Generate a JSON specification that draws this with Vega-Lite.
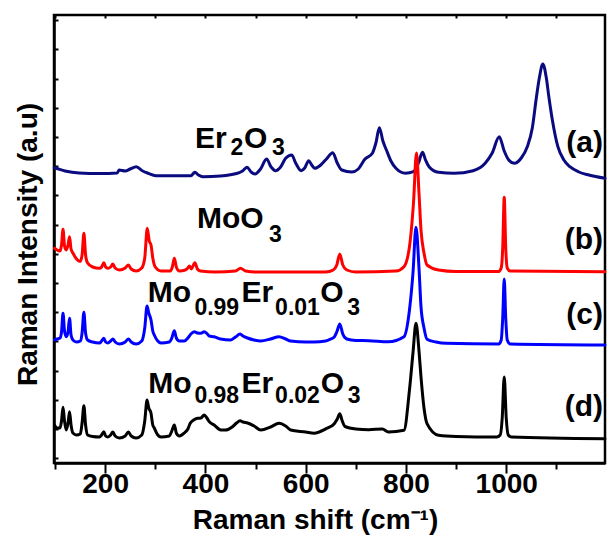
{
  "$schema": "https://vega.github.io/schema/vega-lite/v6.json",
  "width": 551,
  "height": 448,
  "autosize": "none",
  "padding": {"left": 54, "top": 15, "right": 3, "bottom": 84},
  "background": "white",
  "config": {
    "view": {"stroke": "black", "strokeWidth": 2.5},
    "font": "Liberation Sans",
    "axis": {"grid": false, "domainColor": "black", "domainWidth": 2.5, "tickColor": "black", "tickWidth": 2, "labelFont": "Liberation Sans", "titleFont": "Liberation Sans", "labelColor": "black", "titleColor": "black"}
  },
  "datasets": {
    "spectra": [
      {"s":"a","x":98.5,"y":295.3},{"s":"a","x":120,"y":292},{"s":"a","x":148,"y":290},{"s":"a","x":190,"y":289.5},{"s":"a","x":224,"y":290},{"s":"a","x":228,"y":293},{"s":"a","x":240,"y":292},{"s":"a","x":250,"y":294},{"s":"a","x":262,"y":296.3},{"s":"a","x":275,"y":292},{"s":"a","x":286,"y":289.7},{"s":"a","x":301,"y":287.3},{"s":"a","x":371,"y":287.3},{"s":"a","x":379,"y":290.7},{"s":"a","x":386,"y":288},{"s":"a","x":395,"y":286.3},{"s":"a","x":430,"y":287},{"s":"a","x":464,"y":289.7},{"s":"a","x":474,"y":292},{"s":"a","x":483,"y":295.7},{"s":"a","x":491,"y":291},{"s":"a","x":499,"y":289},{"s":"a","x":510,"y":294},{"s":"a","x":522,"y":304},{"s":"a","x":531,"y":296},{"s":"a","x":540,"y":292.3},{"s":"a","x":550,"y":296},{"s":"a","x":560,"y":304.7},{"s":"a","x":572,"y":308},{"s":"a","x":580,"y":300},{"s":"a","x":591,"y":292.3},{"s":"a","x":598,"y":295},{"s":"a","x":606,"y":302.3},{"s":"a","x":612,"y":298},{"s":"a","x":618,"y":294.7},{"s":"a","x":630,"y":298},{"s":"a","x":641,"y":303.7},{"s":"a","x":654,"y":310.3},{"s":"a","x":663,"y":300},{"s":"a","x":672,"y":293},{"s":"a","x":692,"y":291},{"s":"a","x":705,"y":294},{"s":"a","x":718,"y":303.7},{"s":"a","x":733,"y":309.7},{"s":"a","x":740,"y":320},{"s":"a","x":747,"y":335.3},{"s":"a","x":754,"y":322},{"s":"a","x":761,"y":313},{"s":"a","x":770,"y":302},{"s":"a","x":780,"y":294.7},{"s":"a","x":799,"y":289.7},{"s":"a","x":815,"y":291.3},{"s":"a","x":825,"y":300},{"s":"a","x":833,"y":310.7},{"s":"a","x":839,"y":303},{"s":"a","x":846,"y":296.3},{"s":"a","x":865,"y":290.7},{"s":"a","x":896,"y":289.7},{"s":"a","x":934,"y":292.3},{"s":"a","x":958,"y":299.7},{"s":"a","x":972,"y":310},{"s":"a","x":986,"y":326.3},{"s":"a","x":996,"y":312},{"s":"a","x":1005,"y":303},{"s":"a","x":1016,"y":299.7},{"s":"a","x":1030,"y":305},{"s":"a","x":1042,"y":316.3},{"s":"a","x":1052,"y":335},{"s":"a","x":1060,"y":365},{"s":"a","x":1066,"y":385},{"s":"a","x":1073,"y":399},{"s":"a","x":1080,"y":385},{"s":"a","x":1085,"y":366.3},{"s":"a","x":1092,"y":343},{"s":"a","x":1103,"y":316.3},{"s":"a","x":1115,"y":303},{"s":"a","x":1127,"y":296.3},{"s":"a","x":1145,"y":291},{"s":"a","x":1165,"y":288},{"s":"a","x":1197,"y":284.7},

      {"s":"b","x":99,"y":214.7},{"s":"b","x":104,"y":213},{"s":"b","x":110,"y":212},{"s":"b","x":113,"y":218},{"s":"b","x":116,"y":233.7},{"s":"b","x":119,"y":217},{"s":"b","x":122.5,"y":213},{"s":"b","x":126,"y":218},{"s":"b","x":129,"y":226.3},{"s":"b","x":132,"y":214},{"s":"b","x":136,"y":209.7},{"s":"b","x":143,"y":204},{"s":"b","x":150,"y":201.5},{"s":"b","x":154,"y":208},{"s":"b","x":157.6,"y":229.7},{"s":"b","x":161,"y":208},{"s":"b","x":165,"y":200},{"s":"b","x":175,"y":196},{"s":"b","x":188.7,"y":194.7},{"s":"b","x":193,"y":196},{"s":"b","x":197.4,"y":200.3},{"s":"b","x":201,"y":196},{"s":"b","x":205.4,"y":194.7},{"s":"b","x":211,"y":196},{"s":"b","x":215.3,"y":199},{"s":"b","x":220,"y":195},{"s":"b","x":228.5,"y":193},{"s":"b","x":240,"y":195},{"s":"b","x":246.4,"y":198},{"s":"b","x":252,"y":194},{"s":"b","x":261.7,"y":192},{"s":"b","x":273,"y":195},{"s":"b","x":279,"y":205},{"s":"b","x":284,"y":234.7},{"s":"b","x":288,"y":222},{"s":"b","x":291.5,"y":218},{"s":"b","x":295,"y":205},{"s":"b","x":300,"y":196},{"s":"b","x":311.4,"y":192},{"s":"b","x":330,"y":192},{"s":"b","x":334,"y":196},{"s":"b","x":338,"y":204.7},{"s":"b","x":342,"y":196},{"s":"b","x":348,"y":192},{"s":"b","x":360,"y":193},{"s":"b","x":365,"y":195},{"s":"b","x":368,"y":197},{"s":"b","x":372,"y":194},{"s":"b","x":379,"y":200.3},{"s":"b","x":384,"y":194},{"s":"b","x":390,"y":192},{"s":"b","x":420,"y":191},{"s":"b","x":460,"y":192},{"s":"b","x":470,"y":194.7},{"s":"b","x":480,"y":192},{"s":"b","x":500,"y":191},{"s":"b","x":640,"y":191},{"s":"b","x":655,"y":193},{"s":"b","x":662,"y":198},{"s":"b","x":668,"y":209},{"s":"b","x":674,"y":198},{"s":"b","x":682,"y":193},{"s":"b","x":700,"y":191},{"s":"b","x":780,"y":192},{"s":"b","x":796,"y":196.3},{"s":"b","x":807,"y":216.3},{"s":"b","x":815,"y":260},{"s":"b","x":821,"y":310},{"s":"b","x":826,"y":270},{"s":"b","x":830,"y":233},{"s":"b","x":836,"y":210},{"s":"b","x":842,"y":198},{"s":"b","x":865,"y":193},{"s":"b","x":900,"y":191.5},{"s":"b","x":985,"y":191.5},{"s":"b","x":990,"y":195},{"s":"b","x":993,"y":215},{"s":"b","x":996,"y":265.7},{"s":"b","x":999,"y":215},{"s":"b","x":1002,"y":195},{"s":"b","x":1008,"y":192},{"s":"b","x":1197,"y":191.3},

      {"s":"c","x":99,"y":123},{"s":"c","x":104,"y":124},{"s":"c","x":110,"y":125},{"s":"c","x":113,"y":131},{"s":"c","x":116,"y":149.7},{"s":"c","x":119,"y":132},{"s":"c","x":122.4,"y":126.3},{"s":"c","x":126,"y":131},{"s":"c","x":129,"y":144.7},{"s":"c","x":132,"y":128},{"s":"c","x":135.7,"y":123},{"s":"c","x":143,"y":121},{"s":"c","x":150.5,"y":122},{"s":"c","x":154,"y":130},{"s":"c","x":157.6,"y":150.7},{"s":"c","x":161,"y":130},{"s":"c","x":165,"y":123},{"s":"c","x":175,"y":121},{"s":"c","x":188.7,"y":120},{"s":"c","x":193,"y":122},{"s":"c","x":197.4,"y":124.7},{"s":"c","x":201,"y":121},{"s":"c","x":205.4,"y":120},{"s":"c","x":211,"y":122},{"s":"c","x":215.3,"y":124},{"s":"c","x":220,"y":121},{"s":"c","x":228.5,"y":119},{"s":"c","x":240,"y":121},{"s":"c","x":246.4,"y":124},{"s":"c","x":252,"y":121},{"s":"c","x":261.7,"y":119},{"s":"c","x":273,"y":122},{"s":"c","x":279,"y":135},{"s":"c","x":283.6,"y":157},{"s":"c","x":287,"y":150},{"s":"c","x":291.5,"y":143},{"s":"c","x":295,"y":132},{"s":"c","x":298,"y":128},{"s":"c","x":305,"y":122},{"s":"c","x":311.4,"y":120},{"s":"c","x":328,"y":121},{"s":"c","x":333,"y":125},{"s":"c","x":338,"y":132.3},{"s":"c","x":342,"y":125},{"s":"c","x":348,"y":122},{"s":"c","x":357.8,"y":122},{"s":"c","x":365,"y":125},{"s":"c","x":371,"y":129},{"s":"c","x":377.7,"y":131.3},{"s":"c","x":384,"y":130},{"s":"c","x":391,"y":129.7},{"s":"c","x":397.6,"y":131.3},{"s":"c","x":403,"y":129.5},{"s":"c","x":407.6,"y":127},{"s":"c","x":417.5,"y":126.3},{"s":"c","x":430,"y":124},{"s":"c","x":450.7,"y":123},{"s":"c","x":460,"y":126},{"s":"c","x":469.2,"y":129},{"s":"c","x":475,"y":127},{"s":"c","x":484,"y":125},{"s":"c","x":497,"y":123},{"s":"c","x":510.4,"y":122},{"s":"c","x":530,"y":124},{"s":"c","x":546.9,"y":126.3},{"s":"c","x":560,"y":124},{"s":"c","x":570,"y":122},{"s":"c","x":600,"y":121},{"s":"c","x":616.5,"y":121},{"s":"c","x":640,"y":122},{"s":"c","x":650,"y":124},{"s":"c","x":657,"y":126},{"s":"c","x":662,"y":131},{"s":"c","x":668,"y":139},{"s":"c","x":674,"y":129},{"s":"c","x":682,"y":124},{"s":"c","x":700,"y":122.5},{"s":"c","x":726,"y":122.3},{"s":"c","x":765,"y":121.3},{"s":"c","x":796,"y":126.3},{"s":"c","x":807,"y":153},{"s":"c","x":814,"y":190},{"s":"c","x":820,"y":235.7},{"s":"c","x":826,"y":195},{"s":"c","x":830,"y":156.3},{"s":"c","x":836,"y":135},{"s":"c","x":842,"y":123.7},{"s":"c","x":860,"y":121},{"s":"c","x":880,"y":119.7},{"s":"c","x":985,"y":119},{"s":"c","x":990,"y":123},{"s":"c","x":993,"y":145},{"s":"c","x":996,"y":184},{"s":"c","x":999,"y":145},{"s":"c","x":1002,"y":123},{"s":"c","x":1008,"y":119},{"s":"c","x":1197,"y":118},

      {"s":"d","x":99,"y":38},{"s":"d","x":104,"y":35},{"s":"d","x":110,"y":35},{"s":"d","x":113,"y":42},{"s":"d","x":116,"y":55.7},{"s":"d","x":119,"y":42},{"s":"d","x":122.4,"y":33},{"s":"d","x":126,"y":40},{"s":"d","x":129,"y":51.3},{"s":"d","x":132,"y":38},{"s":"d","x":135.7,"y":30},{"s":"d","x":143,"y":28},{"s":"d","x":150.5,"y":29},{"s":"d","x":154,"y":40},{"s":"d","x":157.6,"y":57.3},{"s":"d","x":161,"y":38},{"s":"d","x":165,"y":28},{"s":"d","x":175,"y":26.5},{"s":"d","x":188.7,"y":26},{"s":"d","x":193,"y":28},{"s":"d","x":197.4,"y":31.3},{"s":"d","x":201,"y":27},{"s":"d","x":205.4,"y":26},{"s":"d","x":211,"y":28},{"s":"d","x":215.3,"y":31},{"s":"d","x":220,"y":27},{"s":"d","x":228.5,"y":25},{"s":"d","x":240,"y":27},{"s":"d","x":246.4,"y":31},{"s":"d","x":252,"y":27},{"s":"d","x":261.7,"y":25},{"s":"d","x":273,"y":28},{"s":"d","x":279,"y":42},{"s":"d","x":283.6,"y":63},{"s":"d","x":287,"y":55},{"s":"d","x":291.5,"y":49.7},{"s":"d","x":295,"y":38},{"s":"d","x":298,"y":35},{"s":"d","x":305,"y":28},{"s":"d","x":311.4,"y":26},{"s":"d","x":328,"y":27},{"s":"d","x":333,"y":32},{"s":"d","x":338,"y":38},{"s":"d","x":342,"y":30},{"s":"d","x":348,"y":27},{"s":"d","x":357.8,"y":30},{"s":"d","x":365,"y":34},{"s":"d","x":370,"y":40},{"s":"d","x":376.5,"y":43},{"s":"d","x":384.5,"y":44.7},{"s":"d","x":391,"y":45},{"s":"d","x":397.6,"y":48},{"s":"d","x":403,"y":45},{"s":"d","x":407.6,"y":41.3},{"s":"d","x":417.5,"y":38},{"s":"d","x":430.8,"y":33},{"s":"d","x":440,"y":33},{"s":"d","x":454,"y":36.3},{"s":"d","x":462,"y":40},{"s":"d","x":469.2,"y":42.3},{"s":"d","x":475,"y":41},{"s":"d","x":484,"y":40},{"s":"d","x":497,"y":37},{"s":"d","x":510.4,"y":33},{"s":"d","x":530,"y":36},{"s":"d","x":546.9,"y":39.7},{"s":"d","x":560,"y":37},{"s":"d","x":570,"y":33},{"s":"d","x":600,"y":31},{"s":"d","x":616.5,"y":29.7},{"s":"d","x":641,"y":34.3},{"s":"d","x":657,"y":39.3},{"s":"d","x":663,"y":44},{"s":"d","x":668,"y":49.3},{"s":"d","x":673,"y":42},{"s":"d","x":678,"y":36.7},{"s":"d","x":700,"y":34},{"s":"d","x":726,"y":33.3},{"s":"d","x":753,"y":34},{"s":"d","x":765,"y":31},{"s":"d","x":796,"y":32.7},{"s":"d","x":807,"y":73},{"s":"d","x":814,"y":110},{"s":"d","x":820,"y":139.7},{"s":"d","x":826,"y":112},{"s":"d","x":830,"y":86},{"s":"d","x":836,"y":55},{"s":"d","x":842,"y":39.3},{"s":"d","x":865,"y":27.7},{"s":"d","x":900,"y":26.5},{"s":"d","x":981,"y":26},{"s":"d","x":988,"y":28},{"s":"d","x":992,"y":45},{"s":"d","x":996,"y":86},{"s":"d","x":1000,"y":45},{"s":"d","x":1004,"y":28},{"s":"d","x":1010,"y":26},{"s":"d","x":1197,"y":24.3}
    ],
    "labels": [
      {"kind":"main","text":"Er","x":379,"y":315},
      {"kind":"sub","text":"2","x":450,"y":308},
      {"kind":"main","text":"O","x":477,"y":315},
      {"kind":"sub","text":"3","x":533,"y":308},
      {"kind":"main","text":"MoO","x":383,"y":235},
      {"kind":"sub","text":"3","x":527,"y":221},
      {"kind":"main","text":"Mo","x":285,"y":161},
      {"kind":"sub","text":"0.99","x":378,"y":148},
      {"kind":"main","text":"Er","x":472,"y":161},
      {"kind":"sub","text":"0.01","x":539,"y":148},
      {"kind":"main","text":"O","x":629,"y":161},
      {"kind":"sub","text":"3","x":683,"y":148},
      {"kind":"main","text":"Mo","x":286,"y":70},
      {"kind":"sub","text":"0.98","x":378,"y":60},
      {"kind":"main","text":"Er","x":472,"y":70},
      {"kind":"sub","text":"0.02","x":539,"y":60},
      {"kind":"main","text":"O","x":630,"y":70},
      {"kind":"sub","text":"3","x":684,"y":60},
      {"kind":"tag","text":"(a)","x":1193,"y":311},
      {"kind":"tag","text":"(b)","x":1193,"y":214},
      {"kind":"tag","text":"(c)","x":1193,"y":139},
      {"kind":"tag","text":"(d)","x":1193,"y":47}
    ]
  },
  "layer": [
    {
      "data": {"name": "spectra"},
      "mark": {"type": "line", "interpolate": "monotone", "strokeJoin": "round", "strokeCap": "round"},
      "encoding": {
        "x": {"field": "x", "type": "quantitative", "scale": {"domain": [98, 1197], "nice": false, "zero": false},
          "axis": {"orient": "bottom", "values": [100,200,300,400,500,600,700,800,900,1000,1100], "format": "d",
            "labelExpr": "datum.value % 200 === 0 && datum.value >= 200 && datum.value <= 1000 ? datum.label : ''",
            "labelFontSize": 28, "labelFontWeight": "bold", "labelPadding": -3,
            "tickSize": {"condition": {"test": "datum.value % 200 === 0", "value": 10}, "value": 6},
            "title": "Raman shift (cm⁻¹)", "titleFontSize": 28, "titleFontWeight": "bold",
            "titleX": 261, "titleY": 65, "titleBaseline": "alphabetic", "titleAnchor": "middle", "titleAlign": "center"}},
        "y": {"field": "y", "type": "quantitative", "scale": {"domain": [0, 448], "nice": false, "zero": false},
          "axis": {"orient": "left", "values": [5,34,63,92,122,151,180,209,238,268,297,326,355,384,414,443],
            "labels": false, "tickSize": -4, "tickWidth": 2,
            "title": "Raman Intensity (a.u)", "titleFontSize": 28, "titleFontWeight": "bold",
            "titleAngle": -90, "titleX": -12, "titleY": 229, "titleBaseline": "bottom", "titleAlign": "center"}},
        "color": {"field": "s", "type": "nominal", "legend": null,
          "scale": {"domain": ["a","b","c","d"], "range": ["#0b0b80", "#ff0000", "#0000ff", "#000000"]}},
        "strokeWidth": {"field": "s", "type": "nominal", "legend": null,
          "scale": {"domain": ["a","b","c","d"], "range": [3, 3, 3, 4]}}
      }
    },
    {
      "data": {"name": "labels"},
      "transform": [{"filter": "datum.kind === 'main'"}],
      "mark": {"type": "text", "align": "left", "baseline": "alphabetic", "fontSize": 30, "fontWeight": "bold", "font": "Liberation Sans", "color": "black"},
      "encoding": {
        "x": {"field": "x", "type": "quantitative", "axis": null},
        "y": {"field": "y", "type": "quantitative", "axis": null},
        "text": {"field": "text"}
      }
    },
    {
      "data": {"name": "labels"},
      "transform": [{"filter": "datum.kind === 'sub'"}],
      "mark": {"type": "text", "align": "left", "baseline": "alphabetic", "fontSize": 23, "fontWeight": "bold", "font": "Liberation Sans", "color": "black"},
      "encoding": {
        "x": {"field": "x", "type": "quantitative", "axis": null},
        "y": {"field": "y", "type": "quantitative", "axis": null},
        "text": {"field": "text"}
      }
    },
    {
      "data": {"name": "labels"},
      "transform": [{"filter": "datum.kind === 'tag'"}],
      "mark": {"type": "text", "align": "right", "baseline": "alphabetic", "fontSize": 30, "fontWeight": "bold", "font": "Liberation Sans", "color": "black"},
      "encoding": {
        "x": {"field": "x", "type": "quantitative",
          "axis": {"orient": "top", "values": [100,200,300,400,500,600,700,800,900,1000,1100], "labels": false, "tickSize": -3, "title": null, "domain": false}},
        "y": {"field": "y", "type": "quantitative", "axis": null},
        "text": {"field": "text"}
      }
    }
  ],
  "resolve": {"axis": {"x": "independent", "y": "independent"}}
}
